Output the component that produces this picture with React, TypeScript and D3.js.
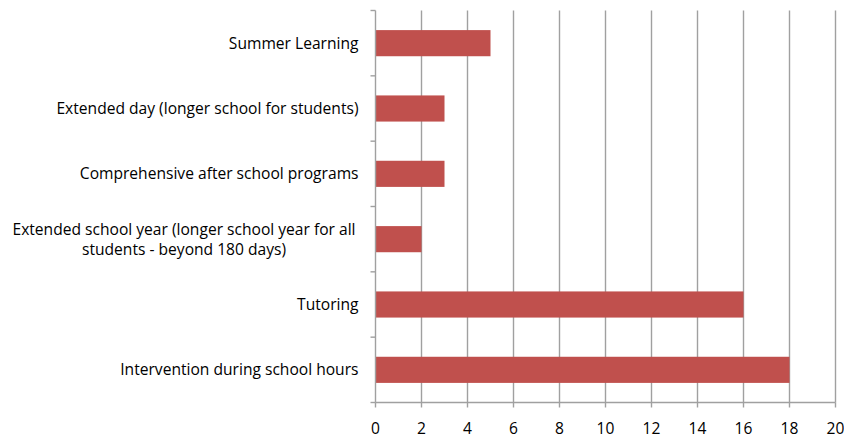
import React from 'react';
import * as d3 from 'd3';

const categories = [
  'Summer Learning',
  'Extended day (longer school for students)',
  'Comprehensive after school programs',
  'Extended school year (longer school year for all students - beyond 180 days)',
  'Tutoring',
  'Intervention during school hours',
];
const labelLines = [
  ['Summer Learning'],
  ['Extended day (longer school for students)'],
  ['Comprehensive after school programs'],
  ['Extended school year (longer school year for all', 'students - beyond 180 days)'],
  ['Tutoring'],
  ['Intervention during school hours'],
];
const values = [5, 3, 3, 2, 16, 18];
const xTicks = [0, 2, 4, 6, 8, 10, 12, 14, 16, 18, 20];

const App = () => {
  const width = 844;
  const height = 440;
  const margin = { top: 10.5, right: 9, bottom: 37.5, left: 375.5 };
  const innerW = 460;
  const innerH = height - margin.top - margin.bottom;

  const x = d3.scaleLinear().domain([0, 20]).range([0, innerW]);
  const y = d3.scaleBand().domain(categories).range([0, innerH]).paddingInner(0.6).paddingOuter(0.3);
  const band = innerH / categories.length;

  const font = "'Open Sans', sans-serif";
  const grid = '#a0a0a0';
  const fs = 15.6;

  return (
    <svg width={width} height={height} style={{ position: 'absolute', left: 0, top: 0 }}>
      <g transform={`translate(${margin.left},${margin.top})`}>
        {xTicks.map(t => (
          <g key={t}>
            {t > 0 && <line x1={x(t)} x2={x(t)} y1={0} y2={innerH} stroke={grid} strokeWidth={1.4} />}
            <line x1={x(t)} x2={x(t)} y1={innerH} y2={innerH + 5} stroke={grid} strokeWidth={1.4} />
            <text x={x(t)} y={innerH + 31} textAnchor="middle" fontFamily={font} fontSize={fs} fill="#000">{t}</text>
          </g>
        ))}
        {categories.map((c, i) => (
          <rect key={c} x={0} y={y(c)} width={x(values[i])} height={y.bandwidth()} fill="#C0504D" />
        ))}
        <line x1={0} x2={0} y1={0} y2={innerH} stroke={grid} strokeWidth={1.4} />
        <line x1={0} x2={innerW} y1={innerH} y2={innerH} stroke={grid} strokeWidth={1.4} />
        {d3.range(categories.length + 1).map(i => (
          <line key={i} x1={-5} x2={0} y1={i * band} y2={i * band} stroke={grid} strokeWidth={1.4} />
        ))}
        {categories.map((c, i) => {
          const lines = labelLines[i];
          const cy = (y(c) ?? 0) + y.bandwidth() / 2;
          const multi = lines.length > 1;
          return (
            <text key={c} fontFamily={font} fontSize={fs} fill="#000" textAnchor={multi ? 'middle' : 'end'}>
              {lines.map((l, j) => (
                <tspan key={j} x={multi ? -191.5 : -17} y={cy + 5.5 + (j - (lines.length - 1) / 2) * 20}>{l}</tspan>
              ))}
            </text>
          );
        })}
      </g>
    </svg>
  );
};

export default App;
